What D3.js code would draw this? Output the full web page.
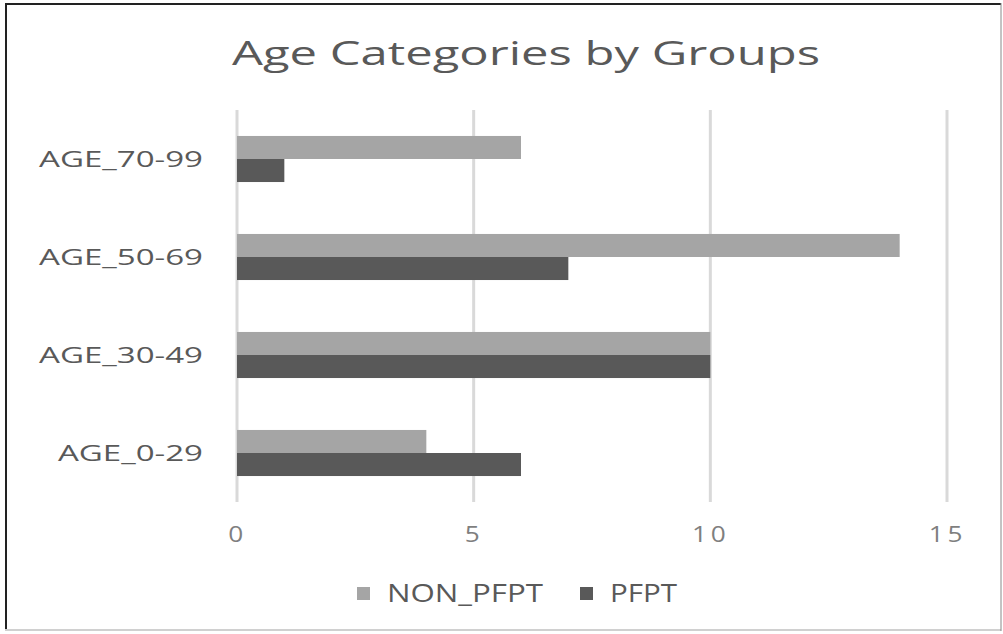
<!DOCTYPE html>
<html><head><meta charset="utf-8">
<script src="https://cdn.jsdelivr.net/npm/d3@7"></script>
<style>body{margin:0;background:#fff}svg{display:block}text{font-family:"Open Sans",sans-serif}</style>
</head><body>
<svg id="c" width="1003" height="634"></svg>
<script>
const categories = ["AGE_70-99","AGE_50-69","AGE_30-49","AGE_0-29"];
const series = ["NON_PFPT","PFPT"];
const nonPfpt = [6,14,10,4];
const pfpt = [1,7,10,6];
const xTicks = [0,5,10,15];
const colors = {"NON_PFPT":"#a5a5a5","PFPT":"#595959"};

const svg = d3.select("#c");
svg.append("rect").attr("x",0).attr("y",0).attr("width",1003).attr("height",634).attr("fill","#fff");
// border
svg.append("line").attr("x1",6).attr("x2",6).attr("y1",3).attr("y2",631).attr("stroke","#222").attr("stroke-width",2);
svg.append("line").attr("x1",5).attr("x2",1001).attr("y1",4).attr("y2",4).attr("stroke","#222").attr("stroke-width",2);
svg.append("line").attr("x1",5).attr("x2",1001).attr("y1",630).attr("y2",630).attr("stroke","#d0d0d0").attr("stroke-width",2);
svg.append("line").attr("x1",1001).attr("x2",1001).attr("y1",3).attr("y2",631).attr("stroke","#888").attr("stroke-width",1);

const x = d3.scaleLinear().domain([0,15]).range([237,947]);
const y = d3.scaleBand().domain(categories).range([110,502]).paddingInner(0.53).paddingOuter(0.265);
const ys = d3.scaleBand().domain(series).range([0,y.bandwidth()]);

// title
svg.append("text").attr("x",526).attr("y",65).attr("text-anchor","middle")
  .attr("font-size",32).attr("fill","#595959").attr("textLength",588).attr("lengthAdjust","spacingAndGlyphs")
  .text("Age Categories by Groups");

// gridlines
svg.append("g").selectAll("line").data(xTicks).join("line")
  .attr("x1",d=>x(d)).attr("x2",d=>x(d)).attr("y1",110).attr("y2",502)
  .attr("stroke","#d9d9d9").attr("stroke-width",3);

// x axis labels
const xAxis = d3.axisBottom(x).tickValues(xTicks).tickSize(0).tickPadding(0);
const gx = svg.append("g").attr("transform","translate(0,527)").call(xAxis);
gx.select(".domain").remove();
gx.selectAll("text").attr("font-size",21).attr("fill","#7f7f7f").attr("letter-spacing",3).attr("dy","0.71em")
  .style("font-family","'Open Sans',sans-serif");
gx.selectAll("text").each(function(){
  const t=d3.select(this); const w=this.getComputedTextLength(); t.attr("textLength",w*1.25).attr("lengthAdjust","spacingAndGlyphs");
});

// y axis labels
const yAxis = d3.axisLeft(y).tickSize(0).tickPadding(0);
const gy = svg.append("g").attr("transform","translate(203,0)").call(yAxis);
gy.select(".domain").remove();
gy.selectAll("text").attr("font-size",21).attr("fill","#595959").attr("dy","0.36em")
  .style("font-family","'Open Sans',sans-serif");
let ref = 1;
gy.selectAll("text").each(function(d){ if(d===categories[0]) ref = 164/this.getComputedTextLength(); });
gy.selectAll("text").each(function(){
  d3.select(this).attr("textLength",this.getComputedTextLength()*ref).attr("lengthAdjust","spacingAndGlyphs");
});

// bars
const rows = categories.map((c,i)=>({cat:c, vals:[{s:"NON_PFPT",v:nonPfpt[i]},{s:"PFPT",v:pfpt[i]}]}));
const g = svg.append("g").selectAll("g").data(rows).join("g").attr("transform",d=>`translate(0,${y(d.cat)})`);
g.selectAll("rect").data(d=>d.vals).join("rect")
  .attr("x",x(0)).attr("y",d=>ys(d.s)).attr("height",ys.bandwidth())
  .attr("width",d=>x(d.v)-x(0)).attr("fill",d=>colors[d.s]);

// legend
const leg = [{s:"NON_PFPT",sx:357,tx:387,tw:156},{s:"PFPT",sx:580,tx:610,tw:67}];
const lg = svg.append("g").selectAll("g").data(leg).join("g");
lg.append("rect").attr("x",d=>d.sx).attr("y",587).attr("width",13).attr("height",13).attr("fill",d=>colors[d.s]);
lg.append("text").attr("x",d=>d.tx).attr("y",602).attr("font-size",26).attr("fill","#595959")
  .attr("textLength",d=>d.tw).attr("lengthAdjust","spacingAndGlyphs").text(d=>d.s);
</script>
</body></html>
